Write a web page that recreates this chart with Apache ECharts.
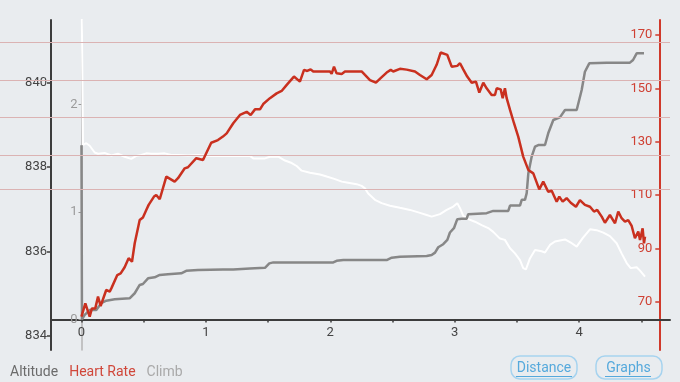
<!DOCTYPE html>
<html>
<head>
<meta charset="utf-8">
<script src="https://cdn.jsdelivr.net/npm/echarts@6/dist/echarts.min.js"></script>
<style>
html,body{margin:0;padding:0;background:#e9ecef;}
#chart{width:680px;height:382px;}
</style>
</head>
<body>
<div id="chart"></div>
<script>
// ---- data (distance km, value) ----
const legendNames = ['Altitude', 'Heart Rate', 'Climb'];
const distanceTicks = [0, 0.5, 1, 1.5, 2, 2.5, 3, 3.5, 4, 4.5];
const distanceLabels = [0, 1, 2, 3, 4];
const altitudeTicks = [834, 836, 838, 840];
const climbTicks = [0, 1, 2];
const heartRateTicks = [70, 90, 110, 130, 150, 170];
const hrZones = [167.3, 153, 139, 125, 112];

const altitude = [
 [0,842.5],[0.012,838.52],[0.039,838.56],[0.066,838.5],[0.106,838.34],[0.133,838.31],[0.186,838.33],
 [0.240,838.27],[0.293,838.31],[0.347,838.24],[0.400,838.19],[0.441,838.26],[0.481,838.28],[0.521,838.32],
 [0.561,838.31],[0.615,838.31],[0.669,838.32],[0.722,838.28],[0.776,838.28],[0.856,838.27],[0.936,838.28],
 [1.043,838.26],[1.137,838.26],[1.354,838.26],[1.381,838.2],[1.475,838.2],[1.515,838.24],[1.582,838.24],
 [1.636,838.15],[1.690,838.09],[1.730,838.02],[1.770,837.91],[1.837,837.86],[1.917,837.82],[1.971,837.77],
 [2.038,837.71],[2.092,837.65],[2.132,837.63],[2.212,837.59],[2.252,837.55],[2.279,837.49],[2.305,837.37],
 [2.359,837.22],[2.413,837.14],[2.480,837.08],[2.560,837.03],[2.641,836.98],[2.721,836.91],[2.775,836.86],
 [2.815,836.82],[2.882,836.88],[2.936,836.98],[2.989,837.06],[3.021,837.14],[3.043,837.02],[3.069,836.84],
 [3.109,836.76],[3.163,836.7],[3.217,836.62],[3.270,836.55],[3.310,836.46],[3.364,836.3],[3.404,836.27],
 [3.445,836.07],[3.485,835.95],[3.525,835.79],[3.551,835.6],[3.573,835.57],[3.605,835.83],[3.646,836.03],
 [3.699,836.0],[3.726,835.97],[3.766,836.15],[3.806,836.23],[3.887,836.28],[3.941,836.19],[3.981,836.11],
 [4.029,836.31],[4.088,836.52],[4.141,836.5],[4.195,836.44],[4.248,836.36],[4.302,836.19],[4.342,835.95],
 [4.383,835.72],[4.415,835.6],[4.463,835.62],[4.490,835.54],[4.530,835.4]
];

const heartRate = [
 [0,64.4],[0.031,69.4],[0.047,69.4],[0.066,64.4],[0.084,67.5],[0.111,67.5],[0.133,71.9],[0.154,68.4],
 [0.199,74.4],[0.227,73.8],[0.240,75],[0.256,74.4],[0.288,80],[0.315,80.6],[0.347,82.9],[0.379,86.3],
 [0.406,85],[0.428,91.9],[0.468,100.6],[0.494,101.6],[0.521,104.4],[0.540,106.3],[0.583,109.4],[0.601,110],
 [0.629,108.4],[0.682,116.9],[0.749,115],[0.776,116.3],[0.830,120],[0.856,120.4],[0.923,123.8],[0.977,123.1],
 [1.043,129.6],[1.097,130.6],[1.137,131.9],[1.167,133.1],[1.220,136.9],[1.274,140],[1.328,141.2],[1.360,140],
 [1.395,142.1],[1.435,142.1],[1.461,144.1],[1.515,146.3],[1.569,148.1],[1.609,149],[1.650,151.3],[1.708,154.4],
 [1.756,152.5],[1.789,156.9],[1.815,156.5],[1.842,157.1],[1.863,156.3],[1.998,156.3],[2.011,155.4],[2.030,158.1],
 [2.051,155.6],[2.092,155.4],[2.118,156.3],[2.252,156.3],[2.279,155],[2.319,153.1],[2.367,152.1],[2.405,153.8],
 [2.453,155.9],[2.486,156.9],[2.506,156.3],[2.560,157.3],[2.614,157],[2.681,156.3],[2.721,155],[2.775,153.4],
 [2.815,155],[2.855,158.8],[2.887,163.4],[2.941,162.5],[2.976,158.1],[3.021,158.4],[3.043,159.4],[3.069,157.1],
 [3.101,154.4],[3.137,152.1],[3.171,152.5],[3.198,148.4],[3.230,152.1],[3.257,150],[3.297,147.5],[3.324,147.5],
 [3.338,150],[3.370,149.6],[3.386,146.3],[3.404,150],[3.418,146.3],[3.445,141.9],[3.477,136.9],[3.511,131.9],
 [3.551,124.4],[3.592,119.4],[3.632,118.1],[3.680,112.1],[3.712,115],[3.752,111.2],[3.780,111.6],[3.820,107.5],
 [3.841,109.4],[3.868,107.5],[3.900,108.8],[3.933,107.1],[3.975,105.6],[4.007,108.1],[4.047,106.3],[4.088,105.6],
 [4.120,103.8],[4.146,104.4],[4.182,101.9],[4.208,99.6],[4.248,102.5],[4.289,99.4],[4.315,103.8],[4.342,101.3],
 [4.369,100],[4.395,100.6],[4.423,98.4],[4.449,93.8],[4.476,96.3],[4.490,93.1],[4.511,97.5],[4.522,91.9],[4.530,94.4]
];

const climb = [
 [0,1.62],[0.004,0],[0.026,0.042],[0.066,0.088],[0.119,0.088],[0.159,0.151],[0.199,0.175],[0.267,0.188],
 [0.387,0.197],[0.428,0.244],[0.468,0.321],[0.494,0.33],[0.535,0.383],[0.588,0.392],[0.629,0.414],[0.695,0.42],
 [0.802,0.429],[0.842,0.453],[0.936,0.46],[1.137,0.466],[1.220,0.466],[1.354,0.475],[1.475,0.481],[1.510,0.522],
 [1.542,0.531],[2.024,0.531],[2.051,0.546],[2.105,0.553],[2.453,0.553],[2.494,0.575],[2.560,0.584],[2.775,0.59],
 [2.815,0.6],[2.842,0.622],[2.868,0.672],[2.908,0.7],[2.941,0.74],[2.962,0.809],[2.994,0.849],[3.021,0.933],
 [3.056,0.936],[3.096,0.936],[3.109,0.98],[3.257,0.989],[3.310,1.01],[3.431,1.01],[3.445,1.06],[3.525,1.06],
 [3.539,1.113],[3.565,1.113],[3.579,1.175],[3.592,1.358],[3.619,1.515],[3.646,1.608],[3.672,1.623],[3.726,1.623],
 [3.752,1.732],[3.793,1.856],[3.846,1.88],[3.887,1.949],[3.981,1.949],[4.021,2.135],[4.047,2.305],[4.082,2.383],
 [4.222,2.389],[4.409,2.389],[4.434,2.414],[4.463,2.476],[4.522,2.476]
];

// ---- chart ----
const FONT = 'Roboto';
const chart = echarts.init(document.getElementById('chart'), null, {renderer: 'canvas'});
chart.setOption({
  backgroundColor: '#e9ecef',
  animation: false,
  textStyle: {fontFamily: FONT},
  legend: {
    left: 0, top: 360, icon: 'none', itemWidth: 0, itemHeight: 14, itemGap: 6,
    selectedMode: false,
    textStyle: {fontSize: 14, fontFamily: FONT},
    data: [
      {name: legendNames[0], textStyle: {color: '#6b6b6b'}},
      {name: legendNames[1], textStyle: {color: '#d0473a'}},
      {name: legendNames[2], textStyle: {color: '#a9a9a9'}}
    ]
  },
  grid: [
    {left: 51, right: 10, top: 20, bottom: 32},
    {left: 0, right: 10, top: 20, bottom: 32}
  ],
  xAxis: [
    {
      type: 'value', gridIndex: 0, position: 'bottom', offset: -30.5, min: -0.245, max: 4.731,
      axisLine: {onZero: false, lineStyle: {color: '#3c3c3c', width: 2}},
      axisTick: {show: true, length: 3, customValues: distanceTicks, lineStyle: {color: '#3c3c3c', width: 1.5}},
      axisLabel: {customValues: distanceLabels, color: '#444', fontSize: 13, margin: 7, fontFamily: FONT},
      splitLine: {show: false}
    },
    {
      type: 'value', gridIndex: 1, min: 0, max: 1, show: false,
      axisLine: {onZero: false}
    }
  ],
  yAxis: [
    {
      type: 'value', gridIndex: 0, position: 'left', min: 833.66, max: 841.48,
      axisLine: {show: true, onZero: false, lineStyle: {color: '#3c3c3c', width: 2}},
      axisTick: {show: true, length: 4, customValues: altitudeTicks, lineStyle: {color: '#3c3c3c', width: 1.5}},
      axisLabel: {customValues: altitudeTicks, color: '#444', fontSize: 13, margin: 4, fontFamily: FONT},
      splitLine: {show: false}
    },
    {
      type: 'value', gridIndex: 0, position: 'left', offset: -30.5, min: -0.284, max: 2.786,
      axisLine: {show: true, onZero: false, lineStyle: {color: '#b4b4b4', width: 1.5}},
      axisTick: {show: true, length: 3, customValues: climbTicks, lineStyle: {color: '#999', width: 1}},
      axisLabel: {customValues: climbTicks, color: '#9a9a9a', fontSize: 13, margin: 4, fontFamily: FONT},
      splitLine: {show: false}
    },
    {
      type: 'value', gridIndex: 0, position: 'right', offset: -10.7, min: 51.9, max: 175.6,
      axisLine: {show: true, onZero: false, lineStyle: {color: '#d0392b', width: 2}},
      axisTick: {show: true, inside: true, length: 4, customValues: heartRateTicks, lineStyle: {color: '#d0392b', width: 1.5}},
      axisLabel: {inside: true, customValues: heartRateTicks, color: '#cf4033', fontSize: 13, margin: 7, fontFamily: FONT},
      splitLine: {show: false}
    },
    {
      type: 'value', gridIndex: 1, min: 51.9, max: 175.6, show: false,
      axisLine: {onZero: false}
    }
  ],
  series: [
    {
      name: 'zones', type: 'line', xAxisIndex: 1, yAxisIndex: 3, data: [], z: 1,
      markLine: {
        silent: true, symbol: 'none', label: {show: false},
        lineStyle: {color: '#dbb3b3', width: 1, type: 'solid'},
        data: hrZones.map(v => ({yAxis: v}))
      }
    },
    {
      name: legendNames[0], type: 'line', xAxisIndex: 0, yAxisIndex: 0, data: altitude,
      showSymbol: false, symbol: 'none', z: 3,
      lineStyle: {color: '#ffffff', width: 2}, itemStyle: {color: '#ffffff'}
    },
    {
      name: legendNames[2], type: 'line', xAxisIndex: 0, yAxisIndex: 1, data: climb,
      showSymbol: false, symbol: 'none', z: 4,
      lineStyle: {color: '#878787', width: 2.5}, itemStyle: {color: '#878787'}
    },
    {
      name: legendNames[1], type: 'line', xAxisIndex: 0, yAxisIndex: 2, data: heartRate,
      showSymbol: false, symbol: 'none', z: 5,
      lineStyle: {color: '#c9301f', width: 2.5}, itemStyle: {color: '#c9301f'}
    }
  ],
  graphic: [
    {type: 'rect', shape: {x: 511, y: 356, width: 66, height: 23, r: 9}, style: {fill: 'none', stroke: '#a6d3ef', lineWidth: 1.5}},
    {type: 'text', style: {x: 544, y: 368, text: 'Distance', fill: '#55a9dc', font: '14px Roboto', textAlign: 'center', textVerticalAlign: 'middle'}},
    {type: 'line', shape: {x1: 516, y1: 376.5, x2: 572, y2: 376.5}, style: {stroke: '#55a9dc', lineWidth: 1}},
    {type: 'rect', shape: {x: 596, y: 356, width: 66, height: 23, r: 9}, style: {fill: 'none', stroke: '#a6d3ef', lineWidth: 1.5}},
    {type: 'text', style: {x: 628.5, y: 368, text: 'Graphs', fill: '#55a9dc', font: '14px Roboto', textAlign: 'center', textVerticalAlign: 'middle'}},
    {type: 'line', shape: {x1: 605, y1: 376.5, x2: 651, y2: 376.5}, style: {stroke: '#55a9dc', lineWidth: 1}}
  ]
});
</script>
</body>
</html>
